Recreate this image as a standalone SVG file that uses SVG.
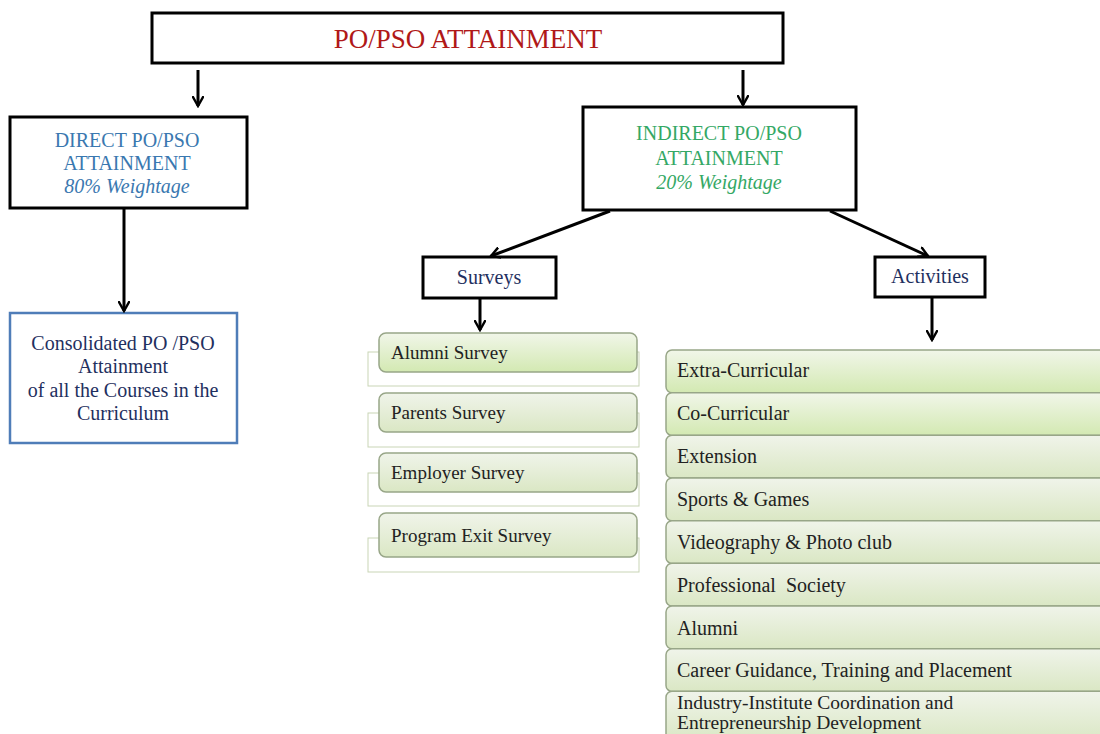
<svg xmlns="http://www.w3.org/2000/svg" width="1100" height="734" viewBox="0 0 1100 734">
  <defs>
    <marker id="arrow" viewBox="0 0 12 12" refX="10" refY="6" markerWidth="12" markerHeight="12" markerUnits="userSpaceOnUse" orient="auto">
      <path d="M1,1 L10,6 L1,11" fill="none" stroke="#000" stroke-width="2.4" stroke-linecap="round" stroke-linejoin="miter"/>
    </marker>
    <linearGradient id="greenFill" x1="0" y1="0" x2="0" y2="1">
      <stop offset="0" stop-color="#F1F6E9"/>
      <stop offset="1" stop-color="#D3E9B2"/>
    </linearGradient>
    <linearGradient id="paleFill" x1="0" y1="0" x2="0" y2="1">
      <stop offset="0" stop-color="#F0F4EA"/>
      <stop offset="1" stop-color="#DAE7C4"/>
    </linearGradient>
  </defs>
  <style>
    text { font-family: "Liberation Serif", "Times New Roman", serif; }
    .box { fill: #fff; stroke: #000; stroke-width: 3; }
    .title { font-size: 27px; fill: #B01818; text-anchor: middle; }
    .direct { font-size: 20px; fill: #3A78B0; text-anchor: middle; }
    .indirect { font-size: 20px; fill: #34A865; text-anchor: middle; }
    .navy { font-size: 20px; fill: #1F3060; text-anchor: middle; }
    .cons { fill: #fff; stroke: #4F7DB8; stroke-width: 2.5; }
    .item { stroke: #98A688; stroke-width: 1.5; }
    .back { fill: none; stroke: #C9D5B6; stroke-width: 1; }
    .label { font-size: 19px; fill: #222; }
    .act { font-size: 20px; fill: #222; }
    .small { font-size: 19.5px; fill: #222; }
    .conn { stroke: #000; stroke-width: 3; fill: none; marker-end: url(#arrow); }
  </style>

  <rect width="1100" height="734" fill="#fff"/>

  <!-- top node -->
  <g id="root">
    <rect class="box" x="152" y="13" width="631" height="50"/>
    <text class="title" x="468" y="48">PO/PSO ATTAINMENT</text>
  </g>

  <g id="direct">
    <rect class="box" x="10" y="117" width="237" height="91"/>
    <text class="direct" x="127" y="147">DIRECT PO/PSO</text>
    <text class="direct" x="127" y="170">ATTAINMENT</text>
    <text class="direct" x="127" y="193" font-style="italic">80% Weightage</text>
  </g>

  <g id="consolidated">
    <rect class="cons" x="10" y="313" width="227" height="130"/>
    <text class="navy" x="123" y="350">Consolidated PO /PSO</text>
    <text class="navy" x="123" y="373">Attainment</text>
    <text class="navy" x="123" y="397">of all the Courses in the</text>
    <text class="navy" x="123" y="420">Curriculum</text>
  </g>

  <g id="indirect">
    <rect class="box" x="583" y="107" width="273" height="103"/>
    <text class="indirect" x="719" y="140">INDIRECT PO/PSO</text>
    <text class="indirect" x="719" y="165">ATTAINMENT</text>
    <text class="indirect" x="719" y="189" font-style="italic">20% Weightage</text>
  </g>

  <g id="surveys">
    <rect class="box" x="423" y="257" width="133" height="41"/>
    <text class="navy" x="489" y="284">Surveys</text>
  </g>

  <g id="activities">
    <rect class="box" x="875" y="257" width="110" height="40"/>
    <text class="navy" x="930" y="283">Activities</text>
  </g>

  <!-- survey list -->
  <g id="survey-alumni">
    <rect class="back" x="368" y="352" width="271" height="34"/>
    <rect class="item" x="379" y="333" width="258" height="39" rx="7" fill="url(#greenFill)"/>
    <text class="label" x="391" y="359">Alumni Survey</text>
  </g>
  <g id="survey-parents">
    <rect class="back" x="368" y="413" width="271" height="34"/>
    <rect class="item" x="379" y="393" width="258" height="39" rx="7" fill="url(#paleFill)"/>
    <text class="label" x="391" y="419">Parents Survey</text>
  </g>
  <g id="survey-employer">
    <rect class="back" x="368" y="473" width="271" height="33"/>
    <rect class="item" x="379" y="453" width="258" height="39" rx="7" fill="url(#paleFill)"/>
    <text class="label" x="391" y="479">Employer Survey</text>
  </g>
  <g id="survey-exit">
    <rect class="back" x="368" y="538" width="271" height="34"/>
    <rect class="item" x="379" y="513" width="258" height="44" rx="7" fill="url(#paleFill)"/>
    <text class="label" x="391" y="542">Program Exit Survey</text>
  </g>

  <!-- activity list -->
  <g id="act-extra">
    <rect class="item" x="666" y="350" width="450" height="42.7" rx="6" fill="url(#greenFill)"/>
    <text class="act" x="677" y="377">Extra-Curricular</text>
  </g>
  <g id="act-co">
    <rect class="item" x="666" y="392.7" width="450" height="42.7" rx="6" fill="url(#greenFill)"/>
    <text class="act" x="677" y="420">Co-Curricular</text>
  </g>
  <g id="act-extension">
    <rect class="item" x="666" y="435.3" width="450" height="42.7" rx="6" fill="url(#paleFill)"/>
    <text class="act" x="677" y="463">Extension</text>
  </g>
  <g id="act-sports">
    <rect class="item" x="666" y="478" width="450" height="42.7" rx="6" fill="url(#paleFill)"/>
    <text class="act" x="677" y="506">Sports &amp; Games</text>
  </g>
  <g id="act-video">
    <rect class="item" x="666" y="520.7" width="450" height="42.7" rx="6" fill="url(#paleFill)"/>
    <text class="act" x="677" y="549">Videography &amp; Photo club</text>
  </g>
  <g id="act-professional">
    <rect class="item" x="666" y="563.3" width="450" height="42.7" rx="6" fill="url(#paleFill)"/>
    <text class="act" x="677" y="592" xml:space="preserve">Professional  Society</text>
  </g>
  <g id="act-alumni">
    <rect class="item" x="666" y="606" width="450" height="42.7" rx="6" fill="url(#paleFill)"/>
    <text class="act" x="677" y="635">Alumni</text>
  </g>
  <g id="act-career">
    <rect class="item" x="666" y="648.7" width="450" height="42.7" rx="6" fill="url(#paleFill)"/>
    <text class="act" x="677" y="677">Career Guidance, Training and Placement</text>
  </g>
  <g id="act-industry">
    <rect class="item" x="666" y="691.3" width="450" height="50" rx="6" fill="url(#paleFill)"/>
    <text class="small" x="677" y="709">Industry-Institute Coordination and</text>
    <text class="small" x="677" y="729">Entrepreneurship Development</text>
  </g>

  <!-- connectors -->
  <g id="connectors">
    <line class="conn" x1="198" y1="70" x2="198" y2="106"/>
    <line class="conn" x1="743" y1="70" x2="743" y2="105"/>
    <line class="conn" x1="124" y1="209" x2="124" y2="311"/>
    <line class="conn" x1="610" y1="211" x2="491" y2="256"/>
    <line class="conn" x1="830" y1="211" x2="928" y2="256"/>
    <line class="conn" x1="480" y1="299" x2="480" y2="330"/>
    <line class="conn" x1="932" y1="298" x2="932" y2="340"/>
  </g>
</svg>
